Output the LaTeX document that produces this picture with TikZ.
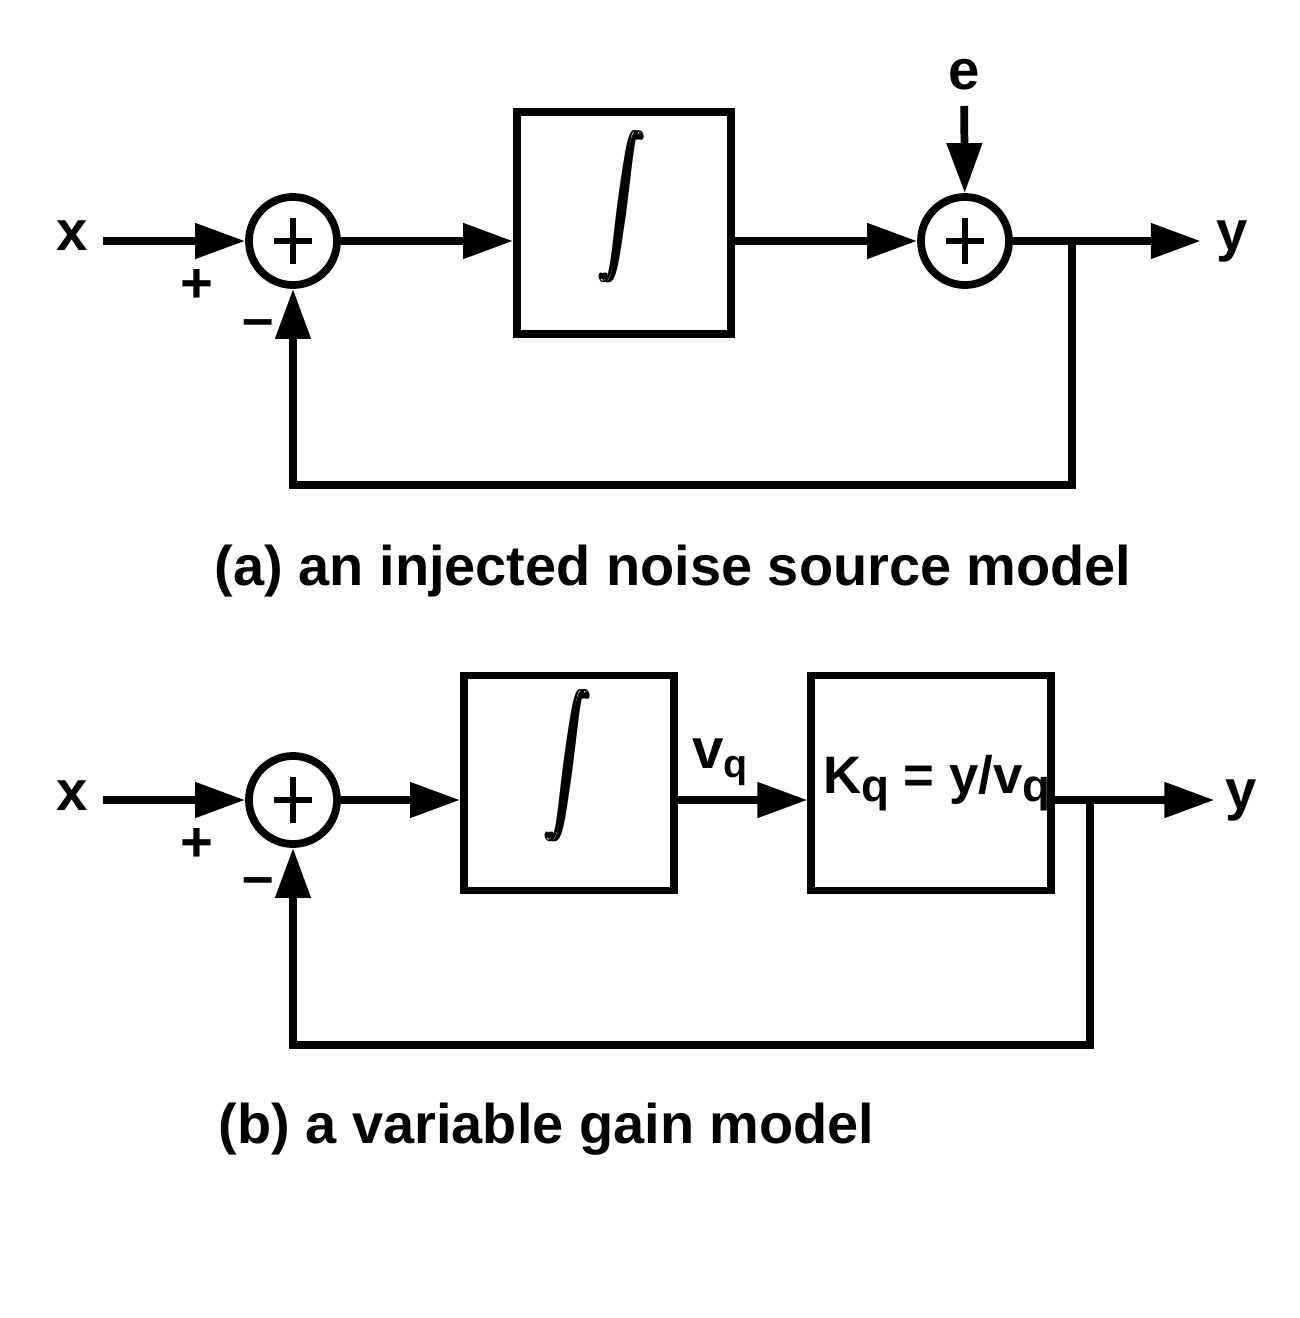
\documentclass[tikz,border=0pt]{standalone}
\usepackage{amsmath}
\usepackage{fontspec}
\setmainfont{Liberation Sans}
\usepackage{graphicx}
\usetikzlibrary{arrows.meta,positioning}

\newcommand{\qsub}[1]{\raisebox{-0.14em}{\fontsize{13}{14}\selectfont #1}}
\newcommand{\integsym}{\scalebox{0.62}[0.94]{\fontsize{19.5}{20}\selectfont
    \rlap{$\displaystyle\int$}\kern1.1pt\rlap{$\displaystyle\int$}\kern1.1pt$\displaystyle\int$}}

\begin{document}
\begin{tikzpicture}[x=0.01cm,y=-0.01cm,
    line width=2.2pt,
    font=\fontsize{16}{19}\selectfont\bfseries,
    arr/.style={-{Triangle[length=0.5cm,width=0.34cm]}},
    sumnode/.style={draw,circle,minimum size=0.88cm,inner sep=0pt,
        path picture={
            \draw[line width=1.9pt] ([xshift=-0.19cm]path picture bounding box.center) -- ([xshift=0.19cm]path picture bounding box.center);
            \draw[line width=1.9pt] ([yshift=-0.23cm]path picture bounding box.center) -- ([yshift=0.23cm]path picture bounding box.center);
        }},
    blockbox/.style={draw,rectangle,inner sep=0pt},
    intsign/.style={inner sep=0pt},
    caption/.style={anchor=base west,inner sep=0pt,font=\fontsize{15.9}{19}\selectfont\bfseries}]
    \useasboundingbox (0,0) rectangle (1300,1318);

    % ---------- (a) injected noise source ----------
    % input x, sum junction, integrator
    \node (xa) at (72,236) {x};
    \node[sumnode] (sa) at (293,241) {};
    \node (pa) at (197,286) {+};
    \node (ma) at (258,329) {--};
    \node[blockbox,minimum width=2.14cm,minimum height=2.22cm] (ia) at (624,223) {};
    \node[intsign] (inta) at (622,207) {\integsym};

    % noise input e and second sum junction
    \node[sumnode] (sb) at (965,241) {};
    \node (e) at (964,75) {e};
    \node (ya) at (1232,241) {y};

    \draw[arr] (xa.east |- sa) -- (sa);
    \draw[arr] (sa) -- (sa -| ia.west);
    \draw[arr] (sb -| ia.east) -- (sb);
    \draw[arr] (e) -- (sb);
    \draw[arr] (sb) -- (ya);

    % feedback from y back to the minus input
    \coordinate (ba) at (1072,241);
    \coordinate (fa) at (1072,485);
    \draw[arr] (ba) -- (fa) -| (sa);

    \node[caption] (capa) at (211,585) {(a) an injected noise source model};

    % ---------- (b) variable gain ----------
    \node (xb) at (72,796) {x};
    \node[sumnode] (sc) at (293,800) {};
    \node (pb) at (197,845) {+};
    \node (mb) at (258,887) {--};
    \node[blockbox,minimum width=2.10cm,minimum height=2.15cm] (ib) at (569,783) {};
    \node[intsign] (intb) at (568,766) {\integsym};

    % quantizer gain block
    \node[blockbox,minimum width=2.39cm,minimum height=2.15cm] (kb) at (931,783)
        {\fontsize{15}{18}\selectfont\kern0.12cm K\qsub{q} = y/v\qsub{q}};
    \node (vq) at (721,762) {v\textsubscript{q}};
    \node[inner sep=2pt] (yb) at (1241,800) {y};

    \draw[arr] (xb.east |- sc) -- (sc);
    \draw[arr] (sc) -- (sc -| ib.west);
    \draw[arr] (sc -| ib.east) -- (sc -| kb.west);
    \draw[arr] (sc -| kb.east) -- (yb);

    % feedback from y back to the minus input
    \coordinate (bb) at (1090,800);
    \coordinate (fb) at (1090,1045);
    \draw[arr] (bb) -- (fb) -| (sc);

    \node[caption] (capb) at (215,1143) {(b) a variable gain model};
\end{tikzpicture}
\end{document}
